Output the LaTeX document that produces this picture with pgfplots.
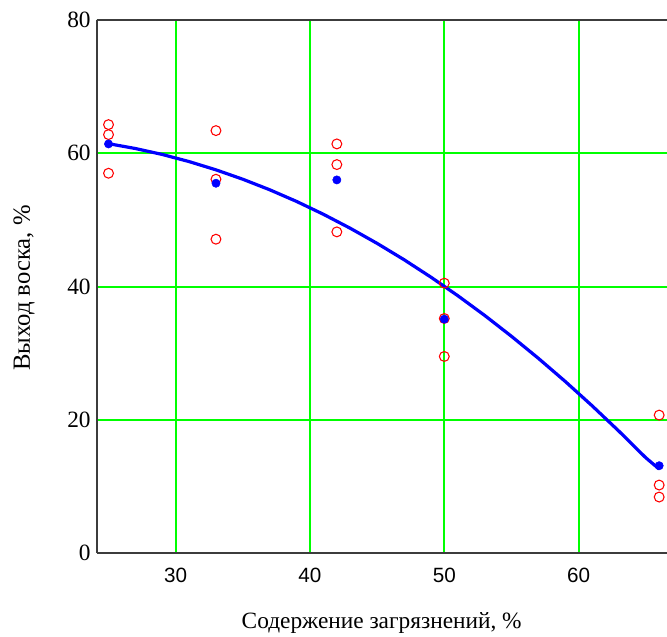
\documentclass[border=0pt]{standalone}
\usepackage{fontspec}
\setmainfont{Liberation Serif}
\newfontfamily\tickfont{Liberation Sans}
\usepackage{pgfplots}
\pgfplotsset{compat=1.18}
\definecolor{gridgreen}{RGB}{0,255,0}
\definecolor{axgray}{RGB}{60,60,60}
\begin{document}
\begin{tikzpicture}[x=0.75pt,y=0.75pt]
\useasboundingbox (-96.7,-83) rectangle (570.3,553);
\begin{axis}[
  at={(0,0)}, anchor=south west,
  scale only axis, width=427.7pt, height=399.75pt,
  xmin=24.12, xmax=66.58, ymin=0, ymax=80,
  axis x line=box, axis y line=left,
  axis line style={-, axgray, line width=1.5pt},
  xtick={30,40,50,60}, ytick={0,20,40,60,80},
  major tick length=0pt,
  grid=major,
  major grid style={gridgreen, line width=1.5pt},
  /pgf/number format/assume math mode=true,
  xticklabel style={font=\tickfont\fontsize{15.5}{17}\selectfont, yshift=-8pt},
  yticklabel style={font=\fontsize{17.5}{19}\selectfont, xshift=-1pt},
  clip=false,
]
\addplot[only marks, mark=o, mark size=3.7pt, red, mark options={line width=0.8pt}] coordinates {
  (25,64.3) (25,62.8) (25,57.0)
  (33,63.4) (33,56.1) (33,47.1)
  (42,61.4) (42,58.3) (42,48.2)
  (50,40.5) (50,35.2) (50,29.5)
  (66,20.7) (66,10.2) (66,8.4)
};
\addplot[only marks, mark=*, mark size=3.1pt, blue] coordinates {
  (25,61.4) (33,55.5) (42,56.0) (50,35.1) (66,13.1)
};
\addplot[blue, line width=2.4pt, no marks] coordinates {
  (25,61.44) (27,60.71) (29,59.82) (31,58.75) (33,57.51) (35,56.10)
  (37,54.52) (39,52.77) (41,50.84) (43,48.74) (45,46.47) (47,44.03)
  (49,41.41) (51,38.63) (53,35.67) (55,32.53) (57,29.23) (59,25.76)
  (61,22.11) (63,18.29) (65,14.30) (66,12.6)
};
\end{axis}
\node[font=\fontsize{17.5}{19}\selectfont] at (285,-70) {Содержение загрязнений, \%};
\node[rotate=90, font=\fontsize{18.5}{20}\selectfont] at (-72.7,265) {Выход воска, \%};
\end{tikzpicture}
\end{document}
